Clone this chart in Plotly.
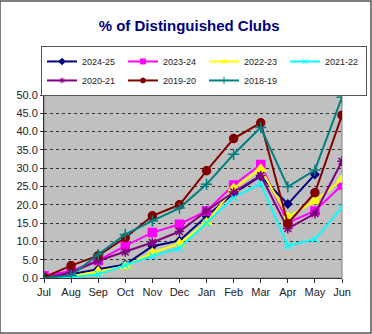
import plotly.graph_objects as go

months = ["Jul", "Aug", "Sep", "Oct", "Nov", "Dec", "Jan", "Feb", "Mar", "Apr", "May", "Jun"]

s2024_25 = [0.0, 1.0, 2.4, 3.7, 8.7, 10.2, 16.9, 23.1, 27.8, 20.2, 28.3, None]
s2023_24 = [0.6, 1.9, 4.8, 8.8, 12.4, 14.7, 18.3, 25.4, 31.0, 15.1, 18.3, 25.4]
s2022_23 = [0.0, 0.5, 1.8, 3.2, 6.9, 9.4, 15.2, 24.5, 29.8, 16.7, 21.0, 26.9]
s2021_22 = [0.0, 0.2, 1.0, 3.5, 6.0, 8.2, 15.0, 22.0, 25.8, 8.8, 10.6, 19.2]
s2020_21 = [0.0, 1.5, 4.7, 7.1, 9.7, 12.7, 18.3, 23.5, 28.0, 13.5, 17.6, 31.9]
s2019_20 = [0.2, 3.4, 6.1, 11.0, 17.0, 20.0, 29.3, 38.1, 42.4, 14.9, 23.3, 44.5]
s2018_19 = [0.0, 0.7, 6.4, 11.9, 15.6, 19.1, 25.6, 33.8, 41.1, 24.9, 29.5, 49.4]

series = [
    ("2024-25", s2024_25, "#000080", "diamond", 6),
    ("2023-24", s2023_24, "#FF00FF", "square", 8),
    ("2022-23", s2022_23, "#FFFF00", "triangle-up", 9),
    ("2021-22", s2021_22, "#00FFFF", "x-thin-open", 7),
    ("2020-21", s2020_21, "#800080", "asterisk-open", 8),
    ("2019-20", s2019_20, "#800000", "circle", 8),
    ("2018-19", s2018_19, "#008080", "cross-thin-open", 8),
]

FONT = "Liberation Sans, Arial, sans-serif"

fig = go.Figure()
for name, vals, color, sym, size in series:
    fig.add_trace(go.Scatter(
        x=months, y=vals, name=name, mode="lines+markers",
        line=dict(color=color, width=2),
        marker=dict(symbol=sym, size=size, color=color,
                    line=dict(color=color, width=1.5)),
        connectgaps=False, showlegend=False,
    ))
# legend entries with smaller markers
for name, vals, color, sym, size in series:
    fig.add_trace(go.Scatter(
        x=[None], y=[None], name=name, mode="lines+markers",
        line=dict(color=color, width=2),
        marker=dict(symbol=sym, size=5, color=color,
                    line=dict(color=color, width=1)),
        showlegend=True,
    ))

fig.update_layout(
    width=372, height=334,
    margin=dict(l=44, r=30, t=95, b=56),
    paper_bgcolor="white",
    plot_bgcolor="#C0C0C0",
    font=dict(family=FONT, size=11, color="#222222"),
    title=dict(text="<b>% of Distinguished Clubs</b>",
               font=dict(family=FONT, size=15, color="#000080"),
               x=0.487, xanchor="center", y=0.922, yanchor="middle",
               xref="paper", yref="container"),
    showlegend=True,
    legend=dict(orientation="h", x=-0.01, xanchor="left", y=1.268, yanchor="top",
                bgcolor="white", bordercolor="#555555", borderwidth=1,
                font=dict(family=FONT, size=9, color="#222222"),
                entrywidth=36, entrywidthmode="pixels",
                traceorder="normal"),
    shapes=[
        dict(type="rect", xref="paper", yref="paper",
             x0=-44/298, x1=(372-44-1)/298, y0=-55/183, y1=(278-1)/183,
             line=dict(color="#555555", width=1.5), fillcolor="rgba(0,0,0,0)",
             layer="below"),
        dict(type="rect", xref="paper", yref="paper",
             x0=0, x1=1, y0=0, y1=1,
             line=dict(color="#808080", width=1), fillcolor="rgba(0,0,0,0)",
             layer="below"),
    ],
)

fig.update_xaxes(
    type="category", range=[0, 11],
    showgrid=False, zeroline=False,
    showline=True, linecolor="#333333", linewidth=1, mirror=False,
    ticks="outside", ticklen=4, tickcolor="#333333",
    tickfont=dict(family=FONT, size=11, color="#222222"),
)
fig.update_yaxes(
    range=[0, 50], dtick=5, tickformat=".1f",
    showgrid=True, gridcolor="#333333", griddash="dot", gridwidth=1,
    zeroline=False,
    showline=True, linecolor="#333333", linewidth=1,
    ticks="outside", ticklen=3, tickcolor="#333333",
    tickfont=dict(family=FONT, size=11, color="#222222"),
)

fig.write_html("out.html")
